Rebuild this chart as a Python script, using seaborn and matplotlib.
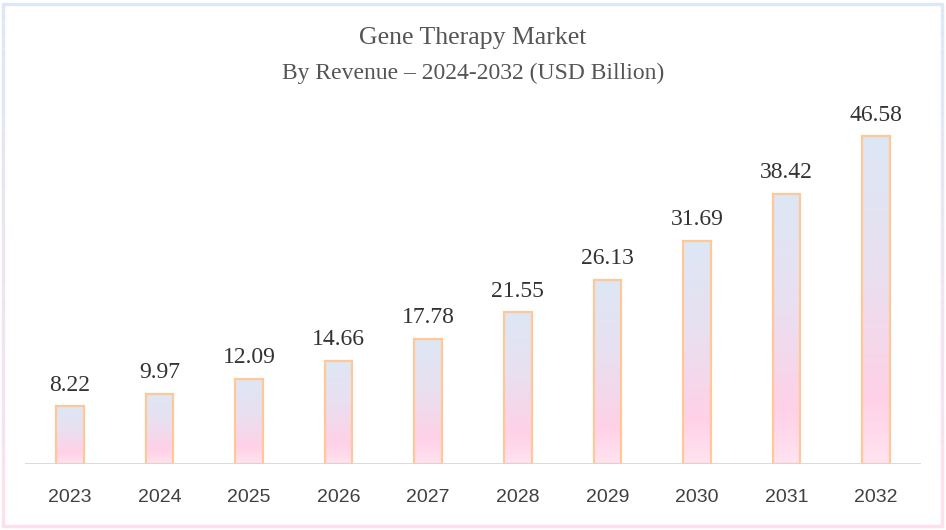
import numpy as np
import pandas as pd
import matplotlib.pyplot as plt
import seaborn as sns
from matplotlib.collections import LineCollection
from matplotlib.colors import LinearSegmentedColormap

years = ["2023", "2024", "2025", "2026", "2027", "2028", "2029", "2030", "2031", "2032"]
revenue = [8.22, 9.97, 12.09, 14.66, 17.78, 21.55, 26.13, 31.69, 38.42, 46.58]

df = pd.DataFrame({"year": years, "revenue": revenue})

sns.set_style("white")
plt.rcParams["font.family"] = ["Liberation Serif", "DejaVu Serif"]

fig = plt.figure(figsize=(9.46, 5.30), dpi=100)
ax = fig.add_axes([25 / 946, 66 / 530, 896 / 946, 352 / 530])

sns.barplot(data=df, x="year", y="revenue", order=years, width=0.31,
            color="white", ax=ax, zorder=2)

# vertical gradient inside every bar: light blue at the top, pink at the bottom
grad_cmap = LinearSegmentedColormap.from_list(
    "bar", [(0, "#ffe3f0"), (0.2, "#ffd1e7"), (0.6, "#e8e0f0"), (1, "#dde7f5")])
grad = np.linspace(0, 1, 256).reshape(-1, 1)
for p in ax.patches:
    x0, y0 = p.get_x(), p.get_y()
    w, h = p.get_width(), p.get_height()
    im = ax.imshow(grad, cmap=grad_cmap, origin="lower", aspect="auto",
                   extent=(x0, x0 + w, y0, y0 + h), zorder=2)
    im.set_clip_path(p)
    p.set_facecolor("none")
    p.set_edgecolor("#ffc896")
    p.set_linewidth(1.6)
    p.set_zorder(3)
    ax.text(x0 + w / 2, y0 + h + 1.5, f"{h:.2f}", ha="center", va="bottom",
            fontsize=17, color="#333333")

ax.set_xlim(-0.5, 9.5)
ax.set_ylim(0, 50)
ax.axhline(0, color="#d6d6d6", linewidth=1.2, zorder=4)
ax.set_yticks([])
ax.set_xlabel("")
ax.set_ylabel("")
ax.tick_params(axis="x", length=0, pad=18)
for lbl in ax.get_xticklabels():
    lbl.set_fontfamily(["Liberation Sans", "DejaVu Sans"])
    lbl.set_fontsize(14)
    lbl.set_color("#404040")
sns.despine(ax=ax, left=True, bottom=True)

fig.text(0.5, 1 - 38 / 530, "Gene Therapy Market", ha="center", va="center",
         fontsize=18.5, color="#555555")
fig.text(0.5, 1 - 73 / 530, "By Revenue \u2013 2024-2032 (USD Billion)", ha="center",
         va="center", fontsize=17, color="#555555")

# outer frame, light blue at the top fading to pink at the bottom
frame_cmap = LinearSegmentedColormap.from_list("frame", ["#fde0ee", "#dde8f5"])
L, R, B, T = 3 / 946, 942 / 946, 4 / 530, 526 / 530
ys = np.linspace(B, T, 60)
segs = [[(L, ys[i]), (L, ys[i + 1])] for i in range(59)] + \
       [[(R, ys[i]), (R, ys[i + 1])] for i in range(59)]
cols = [frame_cmap((ys[i] - B) / (T - B)) for i in range(59)] * 2
fig.add_artist(LineCollection(segs, colors=cols, linewidths=2.5, transform=fig.transFigure))
fig.add_artist(plt.Line2D([L, R], [T, T], color="#dde8f5", linewidth=2.5, transform=fig.transFigure))
fig.add_artist(plt.Line2D([L, R], [B, B], color="#fde0ee", linewidth=2.5, transform=fig.transFigure))

plt.savefig("out.png", dpi=100)
plt.close()
